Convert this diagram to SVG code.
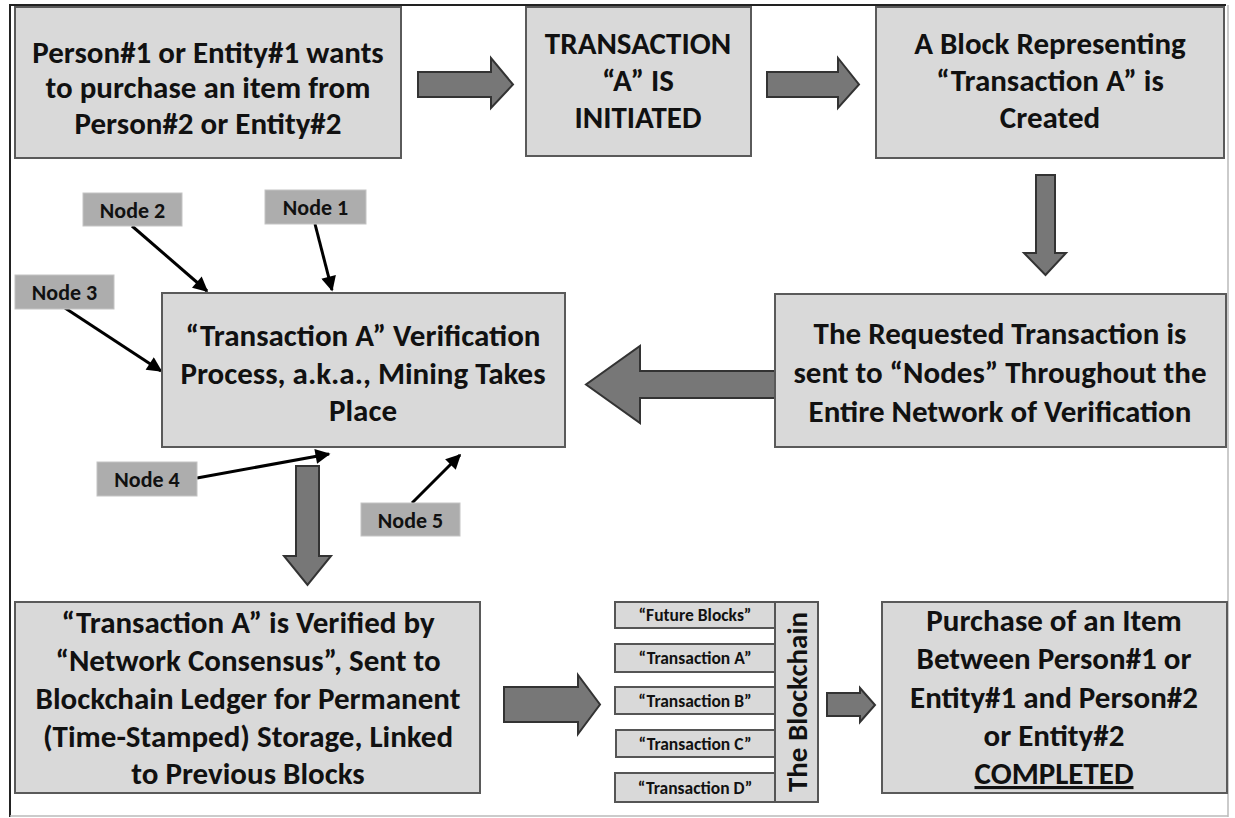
<svg xmlns="http://www.w3.org/2000/svg" width="1235" height="818" viewBox="0 0 1235 818">
<defs>
<style>
.box{fill:#d9d9d9;stroke:#5a5a5a;stroke-width:2}
.big{fill:#777;stroke:#333;stroke-width:2;stroke-linejoin:miter}
.t{font-family:Carlito,Lato,"Liberation Sans",sans-serif;font-weight:bold;font-size:31px;fill:#111;text-anchor:middle}
.nl{fill:#adadad;stroke:#c4c4c4;stroke-width:1}
.nt{font-family:Carlito,Lato,"Liberation Sans",sans-serif;font-weight:bold;font-size:22px;fill:#111;text-anchor:middle}
.blk{fill:#d9d9d9;stroke:#555;stroke-width:2}
.bt{font-family:Carlito,Lato,"Liberation Sans",sans-serif;font-weight:bold;font-size:17.5px;fill:#111;text-anchor:middle}
.na{stroke:#000;stroke-width:3;fill:none;marker-end:url(#ah)}
.frame{stroke:#222;stroke-width:2;fill:none}
</style>
<marker id="ah" viewBox="0 0 10 10" refX="9" refY="5" markerWidth="5.5" markerHeight="5" orient="auto" markerUnits="strokeWidth">
<path d="M0,0 L10,5 L0,10 z" fill="#000"/>
</marker>
</defs>
<rect x="0" y="0" width="1235" height="818" fill="#fff"/>
<path class="frame" d="M10,817 L10,5 L1226,5"/>
<path d="M1228,5 L1228,817 M10,816 L1228,816" stroke="#bbb" stroke-width="1.5" fill="none"/>

<g id="connectors">
<path class="big" d="M418,72 L491,72 L491,58 L513,84.5 L491,108 L491,97 L418,97 z"/>
<path class="big" d="M767,72 L838,72 L838,58 L859,84.5 L838,108 L838,97 L767,97 z"/>
<path class="big" d="M1036,175 L1055,175 L1055,253 L1066,253 L1045.5,275 L1024,253 L1036,253 z"/>
<path class="big" d="M783,371 L640,371 L640,346 L586,384.5 L640,423 L640,398 L783,398 z"/>
<path class="big" d="M296,466 L319,466 L319,556 L331,556 L307.5,585 L284,556 L296,556 z"/>
<path class="big" d="M504,687 L578,687 L578,675 L600,704.5 L578,734 L578,722 L504,722 z"/>
<path class="big" d="M827,693 L860,693 L860,688 L875,705 L860,722 L860,716 L827,716 z"/>
<line class="na" x1="132" y1="226" x2="207" y2="291"/>
<line class="na" x1="315" y1="224" x2="332" y2="290"/>
<line class="na" x1="65" y1="308" x2="161" y2="371"/>
<line class="na" x1="197" y1="478" x2="329" y2="454"/>
<line class="na" x1="412" y1="503" x2="460" y2="455"/>
</g>

<g id="box-person1">
<rect class="box" x="15" y="7" width="386" height="151"/>
<text class="t" x="208" y="63">Person#1 or Entity#1 wants</text>
<text class="t" x="208" y="98">to purchase an item from</text>
<text class="t" x="208" y="134">Person#2 or Entity#2</text>
</g>
<g id="box-initiated">
<rect class="box" x="526" y="7" width="225" height="149"/>
<text class="t" x="638" y="54">TRANSACTION</text>
<text class="t" x="638" y="91">“A” IS</text>
<text class="t" x="638" y="128">INITIATED</text>
</g>
<g id="box-block">
<rect class="box" x="876" y="7" width="348" height="151"/>
<text class="t" x="1050" y="54">A Block Representing</text>
<text class="t" x="1050" y="91">“Transaction A” is</text>
<text class="t" x="1050" y="128">Created</text>
</g>
<g id="box-requested">
<rect class="box" x="775" y="294" width="451" height="153"/>
<text class="t" x="1000" y="344">The Requested Transaction is</text>
<text class="t" x="1000" y="383">sent to “Nodes” Throughout the</text>
<text class="t" x="1000" y="422">Entire Network of Verification</text>
</g>
<g id="box-verification">
<rect class="box" x="162" y="293" width="403" height="154"/>
<text class="t" x="363" y="346">“Transaction A” Verification</text>
<text class="t" x="363" y="384">Process, a.k.a., Mining Takes</text>
<text class="t" x="363" y="421">Place</text>
</g>
<g id="node-1"><rect class="nl" x="265" y="190" width="101" height="34"/><text class="nt" x="315.5" y="215">Node 1</text></g>
<g id="node-2"><rect class="nl" x="83" y="193" width="99" height="33"/><text class="nt" x="132.5" y="218">Node 2</text></g>
<g id="node-3"><rect class="nl" x="15" y="275" width="99" height="34"/><text class="nt" x="64.5" y="300">Node 3</text></g>
<g id="node-4"><rect class="nl" x="97" y="462" width="100" height="34"/><text class="nt" x="147" y="487">Node 4</text></g>
<g id="node-5"><rect class="nl" x="361" y="503" width="99" height="33"/><text class="nt" x="410.5" y="528">Node 5</text></g>
<g id="box-verified">
<rect class="box" x="15" y="602" width="465" height="191"/>
<text class="t" x="248" y="633">“Transaction A” is Verified by</text>
<text class="t" x="248" y="671">“Network Consensus”, Sent to</text>
<text class="t" x="248" y="709">Blockchain Ledger for Permanent</text>
<text class="t" x="248" y="747">(Time-Stamped) Storage, Linked</text>
<text class="t" x="248" y="784">to Previous Blocks</text>
</g>
<g id="blockchain">
<rect class="blk" x="775" y="602" width="43" height="200"/>
<text class="t" transform="translate(807,702) rotate(-90)" style="font-size:29px">The Blockchain</text>
<rect class="blk" x="615" y="602" width="160" height="26"/>
<text class="bt" x="695" y="621">“Future Blocks”</text>
<rect class="blk" x="615" y="644" width="160" height="28"/>
<text class="bt" x="695" y="664">“Transaction A”</text>
<rect class="blk" x="615" y="687" width="160" height="27"/>
<text class="bt" x="695" y="707">“Transaction B”</text>
<rect class="blk" x="616" y="730" width="159" height="27"/>
<text class="bt" x="695" y="750">“Transaction C”</text>
<rect class="blk" x="615" y="773" width="160" height="29"/>
<text class="bt" x="695" y="794">“Transaction D”</text>
</g>
<g id="box-completed">
<rect class="box" x="882" y="602" width="345" height="191"/>
<text class="t" x="1054" y="631">Purchase of an Item</text>
<text class="t" x="1054" y="669">Between Person#1 or</text>
<text class="t" x="1054" y="708">Entity#1 and Person#2</text>
<text class="t" x="1054" y="746">or Entity#2</text>
<text class="t" x="1054" y="784" text-decoration="underline">COMPLETED</text>
</g>
</svg>
